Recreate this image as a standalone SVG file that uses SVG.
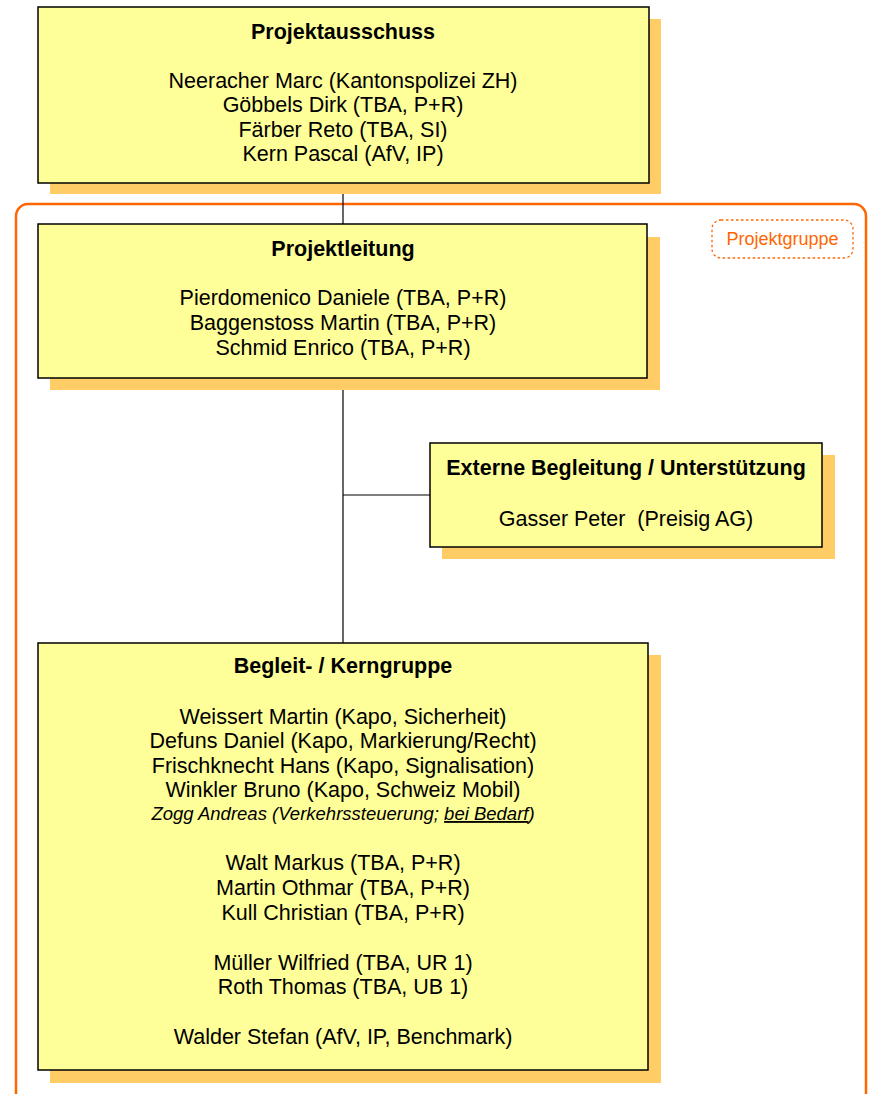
<svg xmlns="http://www.w3.org/2000/svg" width="869" height="1094" viewBox="0 0 869 1094">
<style>
.shadow{fill:#FFCC66;stroke:none}
.box{fill:#FFFF99;stroke:#000;stroke-width:1.5}
text{font-family:"Liberation Sans",Arial,sans-serif;font-size:21.5px;fill:#000;text-anchor:middle}
.t{font-weight:bold}
.it{font-style:italic;font-size:18.5px}
.conn{stroke:#000;stroke-width:1.2;fill:none}
</style>
<rect width="869" height="1094" fill="#fff"/>
<g id="projektgruppe">
<rect x="16" y="204" width="850" height="905" rx="12" fill="none" stroke="#FF6600" stroke-width="2.5"/>
<rect x="712" y="220" width="141" height="38" rx="9" fill="#fff" stroke="#FF6600" stroke-width="1.3" stroke-dasharray="2.5,2.5"/>
<text x="782.5" y="245" style="font-size:18px;fill:#FF6600">Projektgruppe</text>
</g>
<g id="connectors">
<line class="conn" x1="343" y1="183" x2="343" y2="224"/>
<line class="conn" x1="343" y1="378" x2="343" y2="643"/>
<line class="conn" x1="343" y1="495" x2="430" y2="495"/>
</g>
<g id="projektausschuss">
<rect class="shadow" x="50" y="19" width="611" height="175"/>
<rect class="box" x="38" y="7" width="611" height="176"/>
<text class="t" x="343" y="38.5">Projektausschuss</text>
<text x="343" y="87.5">Neeracher Marc (Kantonspolizei ZH)</text>
<text x="343" y="111.5">Göbbels Dirk (TBA, P+R)</text>
<text x="343" y="136.5">Färber Reto (TBA, SI)</text>
<text x="343" y="160.5">Kern Pascal (AfV, IP)</text>
</g>
<g id="projektleitung">
<rect class="shadow" x="50" y="237" width="610" height="153"/>
<rect class="box" x="38" y="224" width="609" height="154"/>
<text class="t" x="343" y="255.5">Projektleitung</text>
<text x="343" y="304.5">Pierdomenico Daniele (TBA, P+R)</text>
<text x="343" y="329.5">Baggenstoss Martin (TBA, P+R)</text>
<text x="343" y="354.5">Schmid Enrico (TBA, P+R)</text>
</g>
<g id="extern">
<rect class="shadow" x="442" y="455" width="393" height="104"/>
<rect class="box" x="430" y="443" width="392" height="104"/>
<text class="t" x="626" y="474.5">Externe Begleitung / Unterstützung</text>
<text x="626" y="525.5" xml:space="preserve">Gasser Peter  (Preisig AG)</text>
</g>
<g id="kerngruppe">
<rect class="shadow" x="50" y="655" width="611" height="428"/>
<rect class="box" x="38" y="643" width="610" height="427"/>
<text class="t" x="343" y="672.5">Begleit- / Kerngruppe</text>
<text x="343" y="723.5">Weissert Martin (Kapo, Sicherheit)</text>
<text x="343" y="747.5">Defuns Daniel (Kapo, Markierung/Recht)</text>
<text x="343" y="772.5">Frischknecht Hans (Kapo, Signalisation)</text>
<text x="343" y="796.5">Winkler Bruno (Kapo, Schweiz Mobil)</text>
<text class="it" x="343" y="820">Zogg Andreas (Verkehrssteuerung; <tspan text-decoration="underline">bei Bedarf</tspan>)</text>
<text x="343" y="869.5">Walt Markus (TBA, P+R)</text>
<text x="343" y="894.5">Martin Othmar (TBA, P+R)</text>
<text x="343" y="919.5">Kull Christian (TBA, P+R)</text>
<text x="343" y="969.5">Müller Wilfried (TBA, UR 1)</text>
<text x="343" y="993.5">Roth Thomas (TBA, UB 1)</text>
<text x="343" y="1043.5">Walder Stefan (AfV, IP, Benchmark)</text>
</g>
</svg>
